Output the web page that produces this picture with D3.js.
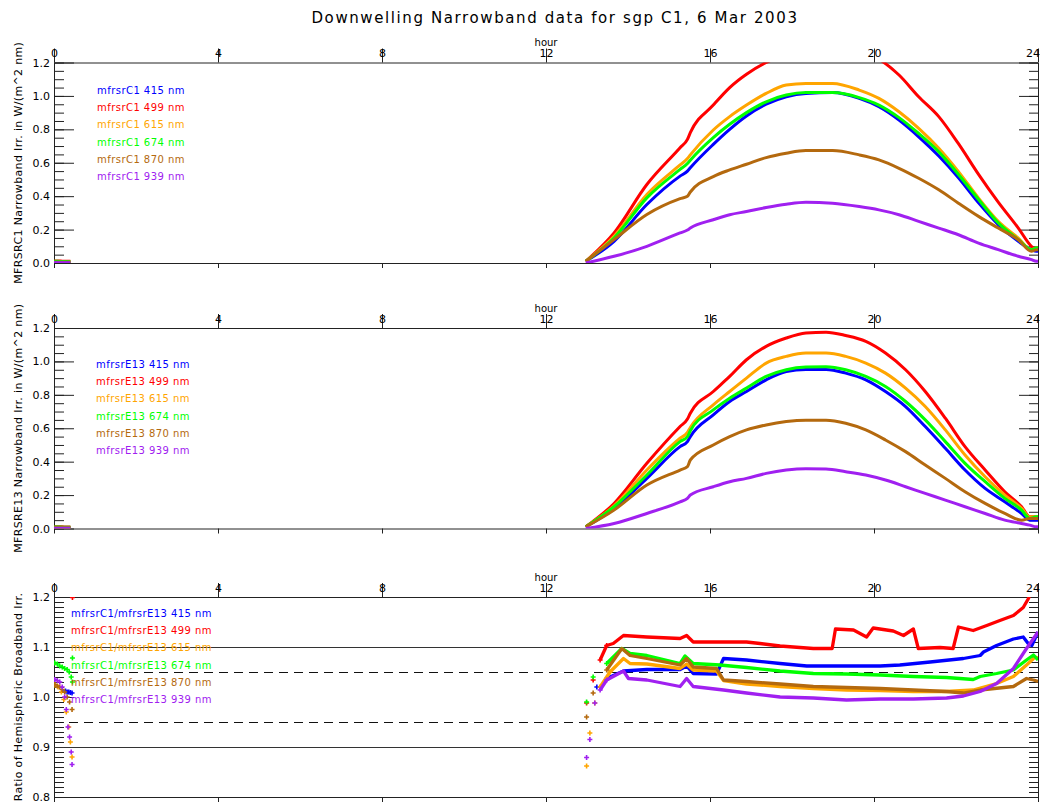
<!DOCTYPE html>
<html><head><meta charset="utf-8">
<script src="https://cdn.jsdelivr.net/npm/d3@7/dist/d3.min.js"></script>
<style>
body{margin:0;background:#fff;}
svg{display:block;font-family:"DejaVu Sans",sans-serif;}
</style></head><body>
<svg id="c" width="1040" height="804"></svg>
<script>
// ---------------- DATA ----------------
const bands = ["415", "499", "615", "674", "870", "939"];
const colors = ["#0000ff", "#ff0000", "#ffa500", "#00ff00", "#b4690e", "#a020f0"];
const hourTicks = [0, 4, 8, 12, 16, 20, 24];

// night-time samples (start of day)
const nightHours = [0.0, 0.1, 0.2, 0.3, 0.4];
const c1Night = [
  [0.004, 0.004, 0.004, 0.004, 0.004],
  [0.012, 0.012, 0.011, 0.010, 0.010],
  [0.006, 0.006, 0.006, 0.006, 0.006],
  [0.010, 0.010, 0.009, 0.009, 0.008],
  [0.005, 0.005, 0.005, 0.005, 0.005],
  [0.002, 0.002, 0.002, 0.002, 0.002]
];
const e13Night = [
  [0.004, 0.004, 0.004, 0.004, 0.004],
  [0.010, 0.010, 0.010, 0.009, 0.009],
  [0.006, 0.006, 0.006, 0.006, 0.006],
  [0.009, 0.009, 0.008, 0.008, 0.008],
  [0.005, 0.005, 0.005, 0.005, 0.005],
  [0.002, 0.002, 0.002, 0.002, 0.002]
];

// MFRSR C1 daytime
const c1Hours = [12.97, 13.66, 14.46, 15.27, 15.45, 15.52, 16.08, 16.48, 16.89, 17.37, 17.86, 18.34, 18.99, 19.64, 20.12, 20.61, 21.09, 21.58, 22.06, 22.55, 23.03, 23.52, 23.84, 23.96, 24.0];
const c1_415 = [0.01, 0.13, 0.35, 0.52, 0.55, 0.57, 0.71, 0.80, 0.88, 0.95, 0.995, 1.015, 1.02, 0.985, 0.935, 0.855, 0.755, 0.64, 0.51, 0.36, 0.23, 0.13, 0.08, 0.07, 0.07];
const c1_499 = [0.01, 0.18, 0.47, 0.69, 0.74, 0.78, 0.945, 1.05, 1.13, 1.20, 1.25, 1.285, 1.295, 1.27, 1.22, 1.125, 0.995, 0.876, 0.714, 0.53, 0.364, 0.209, 0.10, 0.08, 0.09];
const c1_615 = [0.01, 0.16, 0.41, 0.587, 0.625, 0.647, 0.796, 0.876, 0.945, 1.015, 1.065, 1.075, 1.075, 1.035, 0.985, 0.905, 0.806, 0.687, 0.547, 0.388, 0.249, 0.149, 0.08, 0.09, 0.09];
const c1_674 = [0.01, 0.15, 0.39, 0.56, 0.595, 0.615, 0.75, 0.83, 0.90, 0.965, 1.005, 1.02, 1.02, 0.99, 0.945, 0.87, 0.775, 0.665, 0.53, 0.38, 0.24, 0.14, 0.08, 0.09, 0.09];
const c1_870 = [0.01, 0.14, 0.29, 0.385, 0.40, 0.425, 0.517, 0.557, 0.591, 0.631, 0.657, 0.673, 0.673, 0.647, 0.617, 0.567, 0.507, 0.438, 0.358, 0.279, 0.209, 0.139, 0.07, 0.08, 0.08];
const c1_939 = [0.0, 0.04, 0.10, 0.18, 0.197, 0.209, 0.259, 0.289, 0.308, 0.332, 0.352, 0.364, 0.358, 0.338, 0.318, 0.289, 0.249, 0.209, 0.169, 0.119, 0.08, 0.04, 0.02, 0.01, 0.01];

// MFRSR E13 daytime
const e13Hours = [12.97, 13.66, 14.46, 15.27, 15.45, 15.52, 16.08, 16.48, 16.89, 17.37, 17.86, 18.34, 18.83, 19.31, 19.8, 20.28, 20.77, 21.25, 21.74, 22.22, 22.71, 23.19, 23.6, 23.8, 23.96, 24.0];
const e13_415 = [0.01, 0.12, 0.30, 0.49, 0.52, 0.55, 0.68, 0.76, 0.82, 0.89, 0.94, 0.952, 0.952, 0.93, 0.89, 0.82, 0.73, 0.61, 0.48, 0.35, 0.24, 0.16, 0.09, 0.05, 0.05, 0.05];
const e13_499 = [0.01, 0.15, 0.39, 0.61, 0.655, 0.69, 0.82, 0.91, 1.01, 1.09, 1.14, 1.17, 1.175, 1.155, 1.12, 1.05, 0.95, 0.82, 0.66, 0.49, 0.35, 0.22, 0.13, 0.07, 0.07, 0.07];
const e13_615 = [0.01, 0.135, 0.35, 0.54, 0.575, 0.605, 0.74, 0.82, 0.90, 0.99, 1.03, 1.05, 1.05, 1.03, 0.99, 0.93, 0.84, 0.73, 0.59, 0.44, 0.31, 0.20, 0.12, 0.07, 0.07, 0.07];
const e13_674 = [0.01, 0.13, 0.32, 0.52, 0.55, 0.585, 0.71, 0.78, 0.84, 0.91, 0.95, 0.966, 0.968, 0.95, 0.91, 0.85, 0.76, 0.65, 0.52, 0.39, 0.28, 0.18, 0.11, 0.06, 0.07, 0.07];
const e13_870 = [0.01, 0.11, 0.26, 0.35, 0.37, 0.41, 0.50, 0.55, 0.59, 0.62, 0.64, 0.648, 0.648, 0.63, 0.59, 0.53, 0.46, 0.38, 0.30, 0.22, 0.15, 0.09, 0.05, 0.06, 0.06, 0.06];
const e13_939 = [0.0, 0.03, 0.09, 0.16, 0.18, 0.20, 0.25, 0.28, 0.30, 0.33, 0.35, 0.358, 0.356, 0.34, 0.32, 0.29, 0.25, 0.21, 0.17, 0.13, 0.09, 0.05, 0.03, 0.02, 0.01, 0.01];

// Ratio C1/E13
const r415H = [13.24, 13.48, 13.89, 14.46, 15.27, 15.43, 15.59, 16.16, 16.33, 16.89, 17.71, 18.36, 19.33, 20.15, 20.63, 21.37, 22.18, 22.59, 22.67, 22.99, 23.4, 23.64, 23.76, 23.85, 24.0];
const r415V = [1.02, 1.037, 1.052, 1.055, 1.055, 1.062, 1.047, 1.046, 1.077, 1.074, 1.067, 1.062, 1.062, 1.062, 1.064, 1.07, 1.077, 1.083, 1.09, 1.103, 1.116, 1.12, 1.107, 1.103, 1.13];
const r499H = [12.99, 13.15, 13.32, 13.48, 13.64, 13.89, 14.46, 15.27, 15.43, 15.59, 16.24, 16.89, 17.22, 17.71, 18.52, 18.98, 19.06, 19.5, 19.82, 19.98, 20.47, 20.72, 20.96, 21.08, 21.61, 21.93, 22.06, 22.42, 22.75, 23.07, 23.4, 23.64, 23.76, 23.89];
const r499V = [0.988, 1.034, 1.074, 1.103, 1.107, 1.123, 1.12, 1.117, 1.123, 1.11, 1.11, 1.11, 1.107, 1.102, 1.097, 1.097, 1.136, 1.134, 1.12, 1.138, 1.132, 1.123, 1.136, 1.097, 1.099, 1.097, 1.14, 1.133, 1.143, 1.153, 1.163, 1.179, 1.196, 1.22];
const r615H = [12.99, 13.07, 13.19, 13.32, 13.56, 13.89, 14.05, 14.46, 15.27, 15.43, 15.59, 16.16, 16.33, 16.89, 17.71, 18.52, 19.33, 20.15, 20.96, 21.77, 22.42, 22.99, 23.4, 23.72, 23.93, 24.0];
const r615V = [0.862, 0.928, 0.988, 1.02, 1.05, 1.077, 1.067, 1.066, 1.057, 1.066, 1.054, 1.052, 1.033, 1.026, 1.021, 1.017, 1.014, 1.013, 1.011, 1.011, 1.014, 1.027, 1.041, 1.064, 1.08, 1.078];
const r674H = [12.99, 13.15, 13.48, 13.85, 14.05, 14.46, 15.27, 15.39, 15.59, 16.24, 16.89, 17.71, 18.52, 19.33, 20.15, 20.96, 21.77, 22.42, 22.59, 22.99, 23.4, 23.72, 23.89, 24.0];
const r674V = [0.99, 1.04, 1.067, 1.097, 1.087, 1.083, 1.067, 1.082, 1.067, 1.064, 1.059, 1.052, 1.047, 1.046, 1.044, 1.041, 1.039, 1.035, 1.041, 1.047, 1.054, 1.074, 1.084, 1.074];
const r870H = [12.99, 13.15, 13.48, 13.85, 14.05, 14.46, 15.27, 15.43, 15.59, 16.16, 16.33, 16.89, 17.71, 18.52, 19.33, 20.15, 20.96, 21.77, 22.18, 22.59, 23.4, 23.72, 23.89, 24.0];
const r870V = [0.96, 1.008, 1.054, 1.097, 1.083, 1.077, 1.064, 1.077, 1.06, 1.057, 1.034, 1.031, 1.026, 1.021, 1.019, 1.017, 1.014, 1.011, 1.008, 1.014, 1.021, 1.037, 1.034, 1.031];
const r939H = [12.99, 13.07, 13.19, 13.32, 13.48, 13.89, 14.01, 14.46, 15.27, 15.43, 15.59, 16.33, 16.89, 17.71, 18.52, 19.33, 20.15, 20.96, 21.77, 22.18, 22.59, 22.99, 23.4, 23.72, 24.0];
const r939V = [0.879, 0.915, 0.988, 1.014, 1.034, 1.052, 1.037, 1.034, 1.021, 1.037, 1.021, 1.014, 1.008, 1.0, 0.998, 0.994, 0.996, 0.996, 0.998, 1.002, 1.011, 1.027, 1.057, 1.097, 1.13];

// Ratio night-time scatter
const rn415H = [0.28, 0.32, 0.36, 0.40, 0.44];
const rn415V = [1.012, 1.010, 1.010, 1.009, 1.008];
const rn499H = [0.45];
const rn499V = [1.199];
const rn615H = [0.02, 0.10, 0.18, 0.24, 0.30, 0.36, 0.40, 0.44];
const rn615V = [1.024, 1.020, 1.010, 0.995, 0.970, 0.940, 0.910, 0.880];
const rn674H = [0.02, 0.08, 0.14, 0.20, 0.26, 0.32, 0.37, 0.42, 0.45, 0.45];
const rn674V = [1.068, 1.066, 1.062, 1.060, 1.057, 1.055, 1.050, 1.040, 1.078, 1.030];
const rn870H = [0.02, 0.08, 0.14, 0.20, 0.26, 0.32, 0.38, 0.44];
const rn870V = [1.025, 1.022, 1.020, 1.015, 1.010, 1.000, 0.990, 0.975];
const rn939H = [0.02, 0.08, 0.14, 0.20, 0.26, 0.30, 0.34, 0.38, 0.42, 0.44];
const rn939V = [1.035, 1.033, 1.030, 1.020, 1.000, 0.975, 0.940, 0.920, 0.890, 0.865];

const refSolid = [1.1, 0.9];
const refDashed = [1.05, 0.95];

// ---------------- DRAW ----------------
const svg = d3.select("#c");
const ink = "#222";
const x = d3.scaleLinear().domain([0, 24]).range([54, 1038]);

svg.append("text").attr("x", 555).attr("y", 23).attr("text-anchor", "middle")
  .attr("font-size", 15).attr("letter-spacing", 1.6).attr("fill", "#000")
  .text("Downwelling Narrowband data for sgp C1, 6 Mar 2003");

function panel(opts) {
  const y = d3.scaleLinear().domain(opts.domain).range([opts.bottom, opts.top]);
  const g = svg.append("g");
  const id = "clip" + opts.name;
  svg.append("clipPath").attr("id", id).append("rect")
    .attr("x", 54).attr("y", opts.top).attr("width", 984).attr("height", opts.bottom - opts.top);

  const cy = (opts.top + opts.bottom) / 2;
  g.append("text").attr("transform", `translate(18,${cy}) rotate(-90)`)
    .attr("text-anchor", "middle").attr("dominant-baseline", "central")
    .attr("font-size", 11).attr("letter-spacing", 0.35).attr("fill", "#000").text(opts.ytitle);

  const ta = g.append("g").attr("transform", `translate(0,${opts.top})`)
    .call(d3.axisTop(x).tickValues(hourTicks).tickSizeInner(14).tickSizeOuter(0).tickPadding(-8.5).tickFormat(d3.format("d")));
  const ba = g.append("g").attr("transform", `translate(0,${opts.bottom})`)
    .call(d3.axisBottom(x).tickValues(hourTicks).tickSizeInner(5).tickSizeOuter(0).tickFormat(""));
  const la = g.append("g").attr("transform", "translate(54,0)")
    .call(d3.axisLeft(y).tickValues(opts.major).tickSizeInner(-20).tickSizeOuter(0).tickPadding(4).tickFormat(d3.format(".1f")));
  const lm = g.append("g").attr("transform", "translate(54,0)")
    .call(d3.axisLeft(y).tickValues(opts.minor).tickSizeInner(-10).tickSizeOuter(0).tickFormat(""));
  const ra = g.append("g").attr("transform", "translate(1038,0)")
    .call(d3.axisRight(y).tickValues(opts.major).tickSizeInner(-19).tickSizeOuter(0).tickFormat(""));
  const rm = g.append("g").attr("transform", "translate(1038,0)")
    .call(d3.axisRight(y).tickValues(opts.minor).tickSizeInner(-9).tickSizeOuter(0).tickFormat(""));
  [ta, ba, la, lm, ra, rm].forEach(a => {
    a.selectAll("path,line").attr("stroke", ink).attr("stroke-width", 1);
    a.selectAll("text").attr("font-family", "DejaVu Sans, sans-serif").attr("font-size", 11).attr("fill", "#000");
  });
  ta.selectAll("text").attr("dy", "0em");
  ta.selectAll(".tick").filter(d => d === 24).select("text").attr("text-anchor", "end").attr("x", 1.5);
  g.append("text").attr("x", x(12)).attr("y", opts.top - 16.5).attr("text-anchor", "middle")
    .attr("font-size", 10).attr("fill", "#000").text("hour");

  const plot = g.append("g").attr("clip-path", `url(#${id})`);
  return { y, plot, g };
}

function legend(g, x0, y0, labels) {
  labels.forEach((t, i) => {
    g.append("text").attr("x", x0).attr("y", y0 + i * 17.3 + 3.6)
      .attr("font-size", 10).attr("letter-spacing", 0.45).attr("fill", colors[i]).text(t);
  });
}

function zip(h, v) { return h.map((d, i) => [d, v[i]]); }

// Top panel
const pTop = panel({ name: "a", top: 62.5, bottom: 263, domain: [0, 1.2],
  major: d3.range(0, 1.21, 0.2), minor: d3.range(0, 1.201, 0.05),
  ytitle: "MFRSRC1 Narrowband Irr. in W/(m^2 nm)" });
const c1 = [c1_415, c1_499, c1_615, c1_674, c1_870, c1_939];
const lineA = d3.line().x(d => x(d[0])).y(d => pTop.y(d[1])).curve(d3.curveMonotoneX);
c1.forEach((s, i) => {
  pTop.plot.append("path").attr("d", lineA(zip(nightHours, c1Night[i]))).attr("fill", "none")
    .attr("stroke", colors[i]).attr("stroke-width", 3);
  pTop.plot.append("path").attr("d", lineA(zip(c1Hours, s))).attr("fill", "none")
    .attr("stroke", colors[i]).attr("stroke-width", 3).attr("stroke-linejoin", "round");
});
legend(pTop.g, 97, 90, bands.map(b => `mfrsrC1 ${b} nm`));

// Middle panel
const pMid = panel({ name: "b", top: 328, bottom: 528.5, domain: [0, 1.2],
  major: d3.range(0, 1.21, 0.2), minor: d3.range(0, 1.201, 0.05),
  ytitle: "MFRSRE13 Narrowband Irr. in W/(m^2 nm)" });
const e13 = [e13_415, e13_499, e13_615, e13_674, e13_870, e13_939];
const lineB = d3.line().x(d => x(d[0])).y(d => pMid.y(d[1])).curve(d3.curveMonotoneX);
e13.forEach((s, i) => {
  pMid.plot.append("path").attr("d", lineB(zip(nightHours, e13Night[i]))).attr("fill", "none")
    .attr("stroke", colors[i]).attr("stroke-width", 3);
  pMid.plot.append("path").attr("d", lineB(zip(e13Hours, s))).attr("fill", "none")
    .attr("stroke", colors[i]).attr("stroke-width", 3).attr("stroke-linejoin", "round");
});
legend(pMid.g, 96, 364, bands.map(b => `mfrsrE13 ${b} nm`));

// Bottom panel
const pBot = panel({ name: "c", top: 597, bottom: 797, domain: [0.8, 1.2],
  major: [0.8, 0.9, 1.0, 1.1, 1.2], minor: d3.range(80, 121, 1).map(d => d / 100),
  ytitle: "Ratio of Hemispheric Broadband Irr." });
refSolid.forEach(v => pBot.plot.append("line").attr("x1", 54).attr("x2", 1038)
  .attr("y1", pBot.y(v) + 0.5).attr("y2", pBot.y(v) + 0.5).attr("stroke", "#333").attr("stroke-width", 1.2));
refDashed.forEach(v => pBot.plot.append("line").attr("x1", 54).attr("x2", 1038)
  .attr("y1", pBot.y(v) + 0.5).attr("y2", pBot.y(v) + 0.5).attr("stroke", "#111").attr("stroke-width", 1.1)
  .attr("stroke-dasharray", "9,6"));
const ratios = [[r415H, r415V], [r499H, r499V], [r615H, r615V], [r674H, r674V], [r870H, r870V], [r939H, r939V]];
const nights = [[rn415H, rn415V], [rn499H, rn499V], [rn615H, rn615V], [rn674H, rn674V], [rn870H, rn870V], [rn939H, rn939V]];
const lineC = d3.line().x(d => x(d[0])).y(d => pBot.y(d[1]));
const plus = "M-2.5,0H2.5M0,-2.5V2.5";
ratios.forEach((r, i) => {
  const pts = zip(r[0], r[1]);
  pBot.plot.append("path").attr("d", lineC(pts.filter(d => d[0] >= 13.3))).attr("fill", "none")
    .attr("stroke", colors[i]).attr("stroke-width", 3.3).attr("stroke-linejoin", "round");
  pBot.plot.selectAll(null).data(pts.filter(d => d[0] < 13.6)).join("path")
    .attr("d", plus).attr("transform", d => `translate(${x(d[0])},${pBot.y(d[1])})`)
    .attr("stroke", colors[i]).attr("stroke-width", 1.6);
  const n = zip(nights[i][0], nights[i][1]);
  pBot.plot.selectAll(null).data(n).join("path")
    .attr("d", plus).attr("transform", d => `translate(${x(d[0])},${pBot.y(d[1])})`)
    .attr("stroke", colors[i]).attr("stroke-width", 1.6);
});
legend(pBot.g, 71, 613, bands.map(b => `mfrsrC1/mfrsrE13 ${b} nm`));
</script>
</body></html>
